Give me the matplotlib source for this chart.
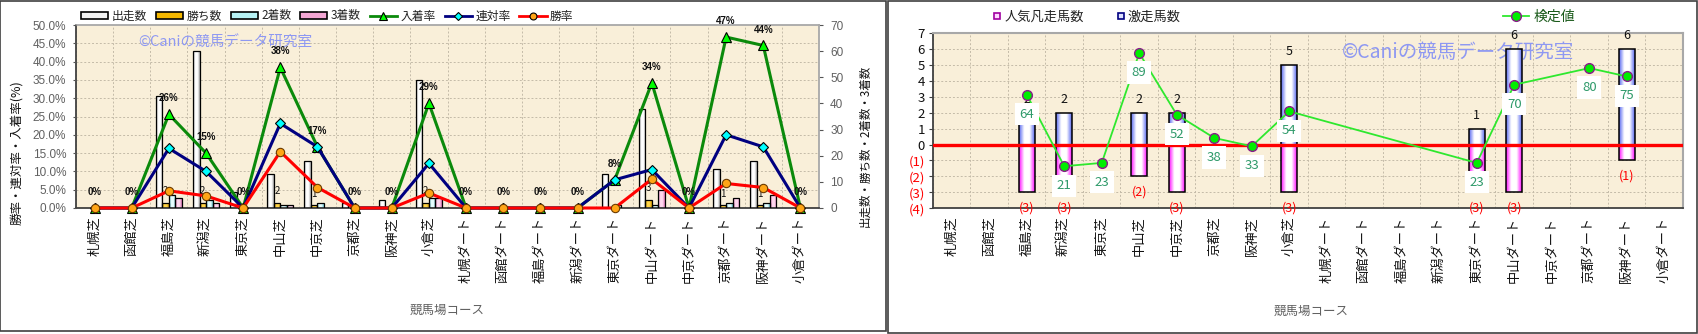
import numpy as np
import matplotlib
matplotlib.use('Agg')
import matplotlib.pyplot as plt
from matplotlib.patches import Rectangle, Patch
from matplotlib.lines import Line2D
from matplotlib.colors import LinearSegmentedColormap
from matplotlib.ticker import MultipleLocator, StrMethodFormatter

plt.rcParams['font.family'] = ['Noto Sans CJK JP', 'DejaVu Sans']
plt.rcParams['axes.unicode_minus'] = False

# ---------------- data ----------------
courses = ['札幌芝', '函館芝', '福島芝', '新潟芝', '東京芝', '中山芝', '中京芝', '京都芝', '阪神芝', '小倉芝',
           '札幌ダート', '函館ダート', '福島ダート', '新潟ダート', '東京ダート', '中山ダート', '中京ダート',
           '京都ダート', '阪神ダート', '小倉ダート']

# left chart : counts (right axis)
runs    = [0, 0, 43, 60, 6, 13, 18, 2, 3, 49, 0, 0, 0, 0, 13, 38, 0, 15, 18, 0]
wins    = [0, 0, 2, 2, 0, 2, 1, 0, 0, 2, 0, 0, 0, 0, 0, 3, 0, 1, 1, 0]
seconds = [0, 0, 5, 3, 0, 1, 2, 0, 0, 4, 0, 0, 0, 0, 1, 1, 0, 2, 2, 0]
thirds  = [0, 0, 4, 2, 0, 1, 0, 0, 0, 4, 0, 0, 0, 0, 0, 7, 0, 4, 5, 0]
# left chart : rates in % (left axis)
place_rate    = [0, 0, 25.6, 15.0, 0, 38.4, 16.7, 0, 0, 28.6, 0, 0, 0, 0, 7.7, 34.2, 0, 46.7, 44.4, 0]
quinella_rate = [0, 0, 16.3, 10.0, 0, 23.1, 16.7, 0, 0, 12.2, 0, 0, 0, 0, 7.7, 10.5, 0, 20.0, 16.7, 0]
win_rate      = [0, 0, 4.7, 3.3, 0, 15.4, 5.6, 0, 0, 4.1, 0, 0, 0, 0, 0, 7.9, 0, 6.7, 5.6, 0]
left_series_names = ['出走数', '勝ち数', '2着数', '3着数', '入着率', '連対率', '勝率']

# right chart
gekiso = [0, 0, 2, 2, 0, 2, 2, 0, 0, 5, 0, 0, 0, 0, 1, 6, 0, 0, 6, 0]   # 激走馬数
bonso  = [0, 0, 3, 3, 0, 2, 3, 0, 0, 3, 0, 0, 0, 0, 3, 3, 0, 0, 1, 0]   # 人気凡走馬数
kentei = [None, None, 64, 21, 23, 89, 52, 38, 33, 54,
          None, None, None, None, 23, 70, None, 80, 75, None]          # 検定値
right_series_names = ['人気凡走馬数', '激走馬数', '検定値']
right_yticks = [-4, -3, -2, -1, 0, 1, 2, 3, 4, 5, 6, 7]

watermark = '©Caniの競馬データ研究室'
xlabel = '競馬場コース'
left_ylabel = '勝率・連対率・入着率(%)'
right_ylabel = '出走数・勝ち数・2着数・3着数'

# ---------------- figure ----------------
W, H = 1699, 334
fig = plt.figure(figsize=(W / 100, H / 100), dpi=100)
fig.patch.set_facecolor('white')


def fx(px):
    return px / W


def fy(py):
    return 1 - py / H


BG = '#f9efd9'
GRID = dict(color='#c4bba8', linestyle=(0, (2, 2)), linewidth=0.7)


def gradient_fill(ax, bars, edge, center, z):
    cmap = LinearSegmentedColormap.from_list('g', [edge, center, center, edge])
    grad = np.linspace(0, 1, 64)[None, :]
    for p in bars:
        h = p.get_height()
        if h == 0:
            continue
        x0, y0, w = p.get_x(), p.get_y(), p.get_width()
        im = ax.imshow(grad, cmap=cmap, extent=[x0, x0 + w, y0, y0 + h],
                       aspect='auto', zorder=z, interpolation='bilinear')
        im.set_clip_path(p)


x = np.arange(len(courses))

# ================= LEFT CHART =================
axL = fig.add_axes([fx(76), fy(208), fx(819) - fx(76), fy(25) - fy(208)])
axL2 = axL.twinx()
axL.set_facecolor(BG)

bw = 0.175
left_bar_styles = [('#a4a4a4', '#ffffff'), ('#dc9c00', '#ffd54a'),
                   ('#6cc8d4', '#e8ffff'), ('#dc74b4', '#ffd8ee')]
for k, (vals, (ec, cc)) in enumerate(zip([runs, wins, seconds, thirds], left_bar_styles)):
    edges = ['black' if v else 'none' for v in vals]
    bars = axL.bar(x + (k - 1.5) * bw, vals, bw, color='none', edgecolor=edges,
                   linewidth=0.9, zorder=3)
    gradient_fill(axL, bars, ec, cc, 2.5)

for i, v in enumerate(wins):
    if v:
        axL.annotate(str(v), (i - 0.5 * bw, v), xytext=(0, 8.5), textcoords='offset points',
                     ha='center', va='center', fontsize=7, color='#111', zorder=4)

axL.text(fx(138), fy(43), watermark, transform=fig.transFigure, fontsize=10.5,
         color='#8e98f2', ha='left', va='center', zorder=1.5)

axL.set_xlim(-0.5, 19.5)
axL.set_ylim(0, 70)
axL.yaxis.tick_right()
axL.yaxis.set_major_locator(MultipleLocator(10))
axL.yaxis.set_minor_locator(MultipleLocator(7))
axL.set_xticks(x)
axL.set_xticks(np.arange(-0.5, 20, 1), minor=True)
axL.set_xticklabels(courses, rotation=90, fontsize=9.5, color='#111')
axL.tick_params(axis='x', which='both', length=0, pad=6)
axL.tick_params(axis='y', which='minor', length=0)
axL.tick_params(axis='y', which='major', length=3, color='#555', labelcolor='#606060',
                labelsize=8.5, pad=5)
for t in axL.get_yticklabels():
    t.set_family(['Liberation Sans'])
axL.grid(which='minor', **GRID)
axL.set_axisbelow(True)

axL2.yaxis.tick_left()
axL2.set_ylim(0, 50)
axL2.yaxis.set_major_locator(MultipleLocator(5))
axL2.yaxis.set_major_formatter(StrMethodFormatter('{x:.1f}%'))
axL2.tick_params(axis='y', length=2, color='#555', labelcolor='#606060', labelsize=8.5, pad=5)
for t in axL2.get_yticklabels():
    t.set_family(['Liberation Sans'])

axL2.plot(x, place_rate, color='#0b8a0b', lw=2.2, marker='^', ms=7, mfc='#00ff00',
          mec='black', mew=0.8, zorder=3, clip_on=False)
axL2.plot(x, quinella_rate, color='#000080', lw=2.2, marker='D', ms=5, mfc='#00ffff',
          mec='black', mew=0.8, zorder=4, clip_on=False)
axL2.plot(x, win_rate, color='#ff0000', lw=2.2, marker='o', ms=6, mfc='#ffa516',
          mec='#6a3a00', mew=0.8, zorder=5, clip_on=False)
for i, v in enumerate(place_rate):
    axL2.annotate(f'{v:.0f}%', (i, v), xytext=(0, 11.5), textcoords='offset points',
                  ha='center', va='center', fontsize=7, fontweight='bold',
                  family=['Liberation Sans'], color='#111', zorder=6)

for sp in axL2.spines.values():
    sp.set_visible(False)
for name, sp in axL.spines.items():
    if name in ('left', 'bottom'):
        sp.set_color('#404040')
        sp.set_linewidth(1.3)
    else:
        sp.set_color('#a8a8a8')
        sp.set_linewidth(1.3)

left_handles = [Patch(fc='#f2f2f2', ec='black', lw=1.2),
                Patch(fc='#f5b800', ec='black', lw=1.2),
                Patch(fc='#b6f2f4', ec='black', lw=1.2),
                Patch(fc='#f4a6d4', ec='black', lw=1.2),
                Line2D([], [], color='#0b8a0b', lw=2, marker='^', ms=6, mfc='#00ff00', mec='black', mew=0.8),
                Line2D([], [], color='#000080', lw=2, marker='D', ms=4.5, mfc='#00ffff', mec='black', mew=0.8),
                Line2D([], [], color='#ff0000', lw=2, marker='o', ms=5, mfc='#ffa516', mec='black', mew=0.8)]
fig.legend(left_handles, left_series_names, loc='center left', bbox_to_anchor=(fx(81), fy(16)),
           ncol=7, frameon=False, fontsize=8.5, handlelength=2.3, handleheight=0.5,
           handletextpad=0.3, columnspacing=0.75, borderpad=0, borderaxespad=0, labelcolor='#222')

fig.text(fx(17), fy(153), left_ylabel, rotation=90, ha='center', va='center', fontsize=9, color='#111')
fig.text(fx(865), fy(146), right_ylabel, rotation=90, ha='center', va='center', fontsize=8.3, color='#111')
fig.text(fx(447), fy(310), xlabel, ha='center', va='center', fontsize=9, color='#606060')

# ================= RIGHT CHART =================
axR = fig.add_axes([fx(933), fy(208.3), fx(1683) - fx(933), fy(33) - fy(208.3)])
axR2 = axR.twinx()
axR.set_facecolor(BG)

rb = 0.42
b1 = axR.bar(x, gekiso, rb, color='none', edgecolor=['black' if v else 'none' for v in gekiso],
             linewidth=1.1, zorder=3)
gradient_fill(axR, b1, '#5868f0', '#ffffff', 2.5)
b2 = axR.bar(x, [-v for v in bonso], rb, color='none',
             edgecolor=['black' if v else 'none' for v in bonso], linewidth=1.1, zorder=3)
gradient_fill(axR, b2, '#ff10ff', '#ffffff', 2.5)
axR.axhline(0, color='#ff0000', lw=2.4, zorder=4)

for i, v in enumerate(gekiso):
    if v:
        axR.annotate(str(v), (i, v), xytext=(0, 9.5), textcoords='offset points',
                     ha='center', va='center', fontsize=9, color='#111', zorder=5)
for i, v in enumerate(bonso):
    if v:
        axR.annotate(f'({v})', (i, -v), xytext=(0, -11), textcoords='offset points',
                     ha='center', va='center', fontsize=9, color='#ff0000', zorder=5)

axR.text(fx(1342), fy(52), watermark, transform=fig.transFigure, fontsize=14,
         color='#8e98f2', ha='left', va='center', zorder=1.5)

axR.set_xlim(-0.5, 19.5)
axR.set_ylim(-4, 7)
axR.set_yticks(right_yticks)
axR.set_yticklabels([str(v) if v >= 0 else f'({-v})' for v in right_yticks], fontsize=9.5)
for t, v in zip(axR.get_yticklabels(), right_yticks):
    t.set_color('#ff0000' if v < 0 else '#111')
axR.set_xticks(x)
axR.set_xticks(np.arange(-0.5, 20, 1), minor=True)
axR.set_xticklabels(courses, rotation=90, fontsize=9.5, color='#111')
axR.tick_params(axis='x', which='both', length=0, pad=6)
axR.tick_params(axis='y', length=3, color='#404040', pad=3)
axR.grid(which='minor', axis='x', **GRID)
axR.grid(which='major', axis='y', **GRID)
axR.set_axisbelow(True)

axR2.set_ylim(-4.3, 101.1)
axR2.set_yticks([])
kx = [i for i, v in enumerate(kentei) if v is not None]
kv = [v for v in kentei if v is not None]
axR2.plot(kx, kv, color='#2ee82e', lw=1.3, marker='o', ms=7, mfc='#00ee00', mec='#8a1a8a',
          mew=1.0, zorder=3, clip_on=False)
for i, v in zip(kx, kv):
    axR2.annotate(str(v), (i, v), xytext=(0, -14), textcoords='offset points', ha='center',
                  va='center', fontsize=9.5, color='#2f9a6a', zorder=4,
                  bbox=dict(boxstyle='square,pad=0.35', fc='white', ec='none'))

for sp in axR2.spines.values():
    sp.set_visible(False)
for name, sp in axR.spines.items():
    if name in ('left', 'bottom'):
        sp.set_color('#404040')
        sp.set_linewidth(1.3)
    else:
        sp.set_color('#a8a8a8')
        sp.set_linewidth(1.5)

right_handles = [Line2D([], [], ls='none', marker='s', ms=5, mfc='#ffd8ff', mec='#a000a0', mew=1.2),
                 Line2D([], [], ls='none', marker='s', ms=5, mfc='#dce0ff', mec='#000080', mew=1.2)]
fig.legend(right_handles, right_series_names[:2], loc='center left', bbox_to_anchor=(fx(993), fy(17)),
           ncol=2, frameon=False, fontsize=9.5, handlelength=0.6, handletextpad=0.25,
           columnspacing=2.5, borderpad=0, borderaxespad=0, labelcolor='#222')
kentei_handle = [Line2D([], [], color='#2ee82e', lw=1.3, marker='o', ms=7, mfc='#00ee00',
                        mec='#8a1a8a', mew=1.0)]
fig.legend(kentei_handle, right_series_names[2:], loc='center left', bbox_to_anchor=(fx(1503), fy(17)),
           frameon=False, fontsize=10, handlelength=1.9, handletextpad=0.3, borderpad=0,
           borderaxespad=0, labelcolor='#1a5a1a')

fig.text(fx(1311), fy(311), xlabel, ha='center', va='center', fontsize=9, color='#606060')

# panel frames
fig.add_artist(Rectangle((fx(0.5), fy(330.5)), fx(886) - fx(0.5), fy(0.5) - fy(330.5),
                         transform=fig.transFigure, fill=False, ec='#404040', lw=1.2))
fig.add_artist(Rectangle((fx(888.5), fy(332.5)), fx(1697.5) - fx(888.5), fy(0.5) - fy(332.5),
                         transform=fig.transFigure, fill=False, ec='#404040', lw=1.2))

fig.savefig('out.png', dpi=100)
